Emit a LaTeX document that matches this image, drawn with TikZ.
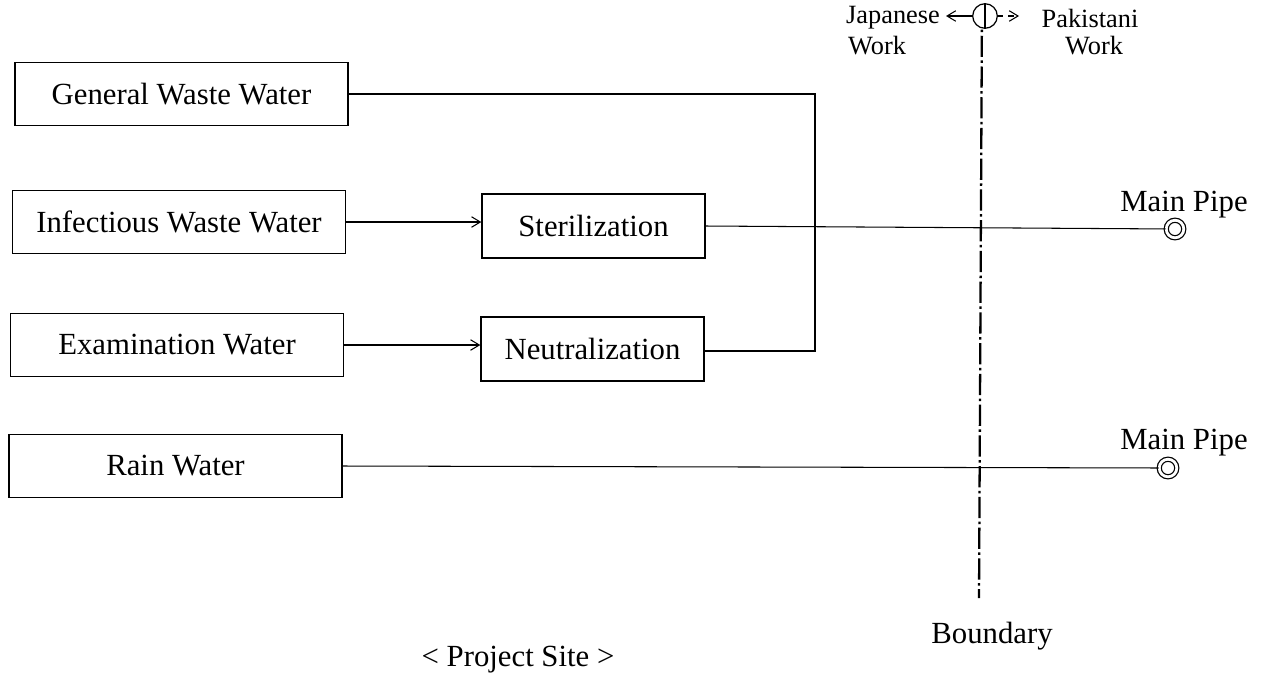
\documentclass[tikz,border=0pt]{standalone}
\usepackage{fontspec}
\setmainfont{Liberation Serif}
\usetikzlibrary{calc,arrows.meta}

\begin{document}
\begin{tikzpicture}[
  x=0.02cm, y=-0.02cm,
  >={Straight Barb[length=5pt,width=6pt]},
  font=\fontsize{17.5}{20}\selectfont,
  box/.style={draw, line width=0.8pt, inner sep=0pt},
  srcbox/.style={box, minimum width=6.66cm, minimum height=1.26cm},
  treatbox/.style={box, minimum width=4.46cm, minimum height=1.28cm},
  pipe/.style={line width=0.6pt},
  flow/.style={->, line width=0.6pt},
  pipeend/.style={draw, circle, double, double distance=1.6pt, line width=0.7pt, minimum size=10pt, inner sep=0pt},
  boundary/.style={line width=1.3pt, dash pattern=on 12pt off 2pt on 1.5pt off 2pt},
  side/.style={font=\fontsize{15}{18}\selectfont, inner sep=1pt}
]
\useasboundingbox (0,0) rectangle (1263,674);

% --- Source boxes ---
\node[srcbox] (gen)  at (181.5,94) {General Waste Water};
\node[srcbox] (inf)  at (179,222)  {Infectious Waste Water};
\node[srcbox] (exam) at (177,345)  {Examination Water};
\node[srcbox] (rain) at (175.5,466) {Rain Water};

% --- Treatment boxes ---
\node[treatbox] (ster) at (593.5,226) {Sterilization};
\node[treatbox] (neu)  at (592.5,349) {Neutralization};

% --- Main pipe ends ---
\node[pipeend] (pipeA) at (1175,229) {};
\node[pipeend] (pipeB) at (1168,468) {};
\node at (1184,205) {Main Pipe};
\node at (1184,443) {Main Pipe};

% --- Connections ---
\coordinate (jn) at (815,351);
\draw[flow] (inf.east) -- (inf.east -| ster.west);
\draw[flow] (exam.east) -- (exam.east -| neu.west);
\draw[pipe] (gen.east) -| (jn) -- (jn -| neu.east);
\draw[pipe] (ster.east) -- (pipeA);
\draw[pipe] (rain.east) -- (pipeB);

% --- Boundary ---
\coordinate (bTop) at (982,5);
\coordinate (bBot) at (979,598);
\draw[boundary] (bTop) -- (bBot);
\node[draw, circle, line width=0.7pt, minimum size=14pt, inner sep=0pt, fill=white] (bc) at (985,16) {};
\draw[line width=1.3pt] (bc.north) -- (bc.south);
\coordinate (jArr) at (946,16);
\coordinate (pArr) at (1019,16);
\draw[flow] (bc.west) -- (jArr);
\draw[flow, dashed] (bc.east) -- (pArr);

% --- Labels ---
\node[side] at (893,18) {Japanese};
\node[side] at (877,46) {Work};
\node[side] at (1090,18) {Pakistani};
\node[side] at (1094,46) {Work};
\node at (992,636) {Boundary};
\node at (518,660) {< Project Site >};

\end{tikzpicture}
\end{document}
